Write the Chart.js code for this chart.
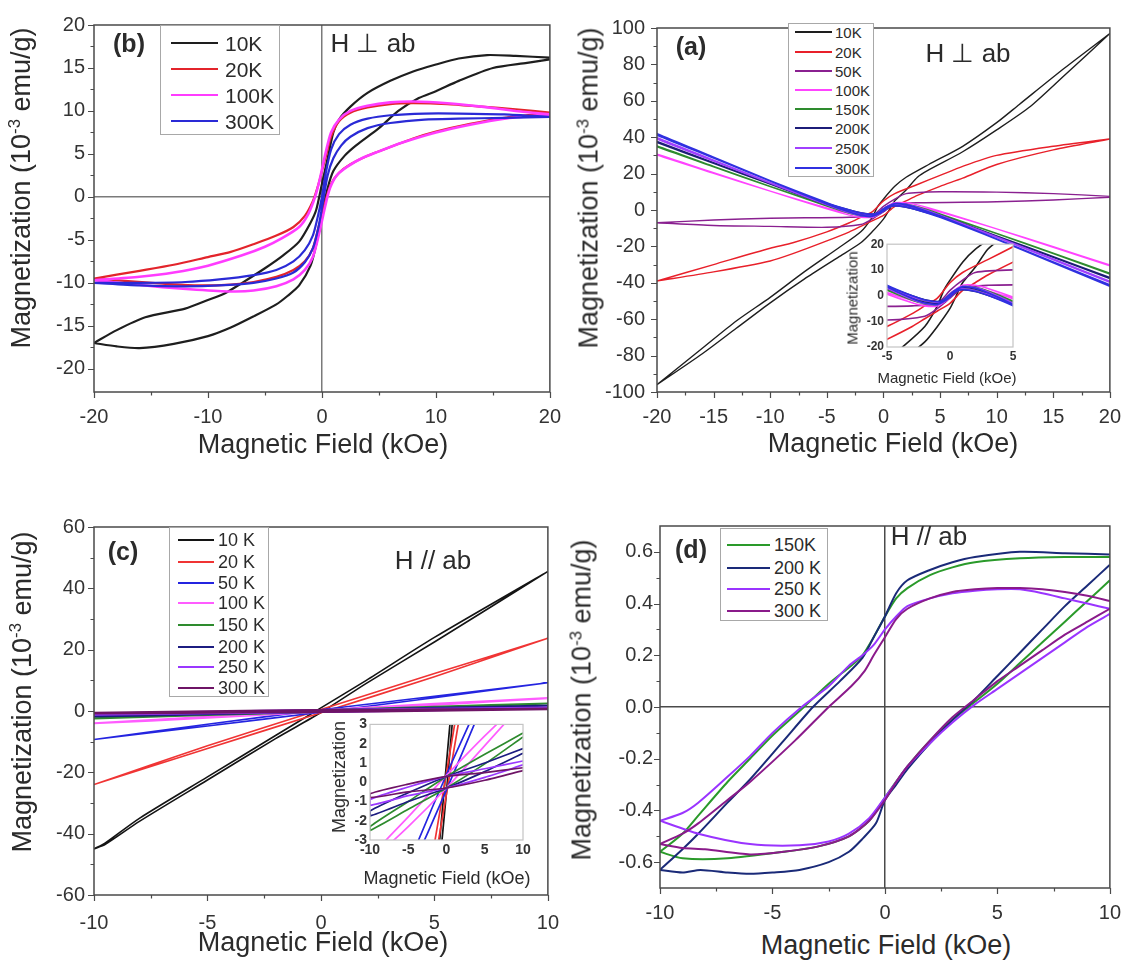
<!DOCTYPE html>
<html><head><meta charset="utf-8">
<script src="https://cdn.jsdelivr.net/npm/chart.js@4.4.1/dist/chart.umd.min.js"></script>
<style>
html,body{margin:0;padding:0;background:#fff}
body{width:1135px;height:962px;position:relative;overflow:hidden;font-family:"Liberation Sans",Arial,sans-serif;color:#2b2b2b}
canvas{position:absolute}
.tx{position:absolute;white-space:nowrap;transform:translate(-50%,-50%);line-height:1}
.yt{position:absolute;white-space:nowrap;transform:translate(-50%,-50%) rotate(-90deg);line-height:1}
.yt sup{font-size:0.62em;vertical-align:0.55em;line-height:0}
.lg{position:absolute;border:1px solid #a8a8a8;background:#fff;box-sizing:border-box}
</style></head><body>
<canvas id="cb"></canvas><canvas id="ca"></canvas><canvas id="cc"></canvas><canvas id="cd"></canvas>
<canvas id="cai"></canvas><canvas id="cci"></canvas>

<div class="yt" style="left:21px;top:188px;font-size:27px">Magnetization (10<sup>-3</sup> emu/g)</div>
<div class="yt" style="left:589px;top:188px;font-size:27px">Magnetization (10<sup>-3</sup> emu/g)</div>
<div class="yt" style="left:22px;top:692px;font-size:27px">Magnetization (10<sup>-3</sup> emu/g)</div>
<div class="yt" style="left:582px;top:700px;font-size:27px">Magnetization (10<sup>-3</sup> emu/g)</div>
<div class="tx" style="left:323px;top:444px;font-size:27px">Magnetic Field (kOe)</div>
<div class="tx" style="left:893px;top:443px;font-size:27px">Magnetic Field (kOe)</div>
<div class="tx" style="left:323px;top:942px;font-size:27px">Magnetic Field (kOe)</div>
<div class="tx" style="left:886px;top:945px;font-size:27px">Magnetic Field (kOe)</div>
<div class="tx" style="left:129px;top:43px;font-size:25px;font-weight:bold">(b)</div>
<div class="tx" style="left:691px;top:46px;font-size:25px;font-weight:bold">(a)</div>
<div class="tx" style="left:123px;top:551px;font-size:25px;font-weight:bold">(c)</div>
<div class="tx" style="left:691px;top:549px;font-size:25px;font-weight:bold">(d)</div>
<div class="tx" style="left:373px;top:43px;font-size:26px">H ⊥ ab</div>
<div class="tx" style="left:968px;top:53px;font-size:26px">H ⊥ ab</div>
<div class="tx" style="left:433px;top:560px;font-size:26px">H // ab</div>
<div class="tx" style="left:929px;top:536px;font-size:26px">H // ab</div>
<div class="tx" style="left:947px;top:377px;font-size:15px">Magnetic Field (kOe)</div>
<div class="yt" style="left:852px;top:298px;font-size:15px">Magnetization</div>
<div class="tx" style="left:447px;top:878px;font-size:18px">Magnetic Field (kOe)</div>
<div class="yt" style="left:339px;top:777px;font-size:18px">Magnetization</div>

<script>
// ================= DATA =================
// Panel (b): H perp ab, ferromagnetic part, [H (kOe), M (1e-3 emu/g)]
const bNames = ['10K','20K','100K','300K'];
const bColors = ['#1e1e1e','#e3242b','#ff3cff','#2a2ad6'];
const b10K_desc = [[20,16.2],[17,16.4],[14.5,16.5],[12,16.1],[10,15.4],[8,14.6],[6,13.5],[4,12.1],[2.5,10.5],[1.5,9],[1,7.5],[0.5,4.5],[0,1.5],[-0.5,-1.5],[-1,-3],[-2,-5.2],[-3.4,-6.8],[-5,-8.3],[-7,-10],[-8.5,-11.2],[-10,-12],[-12,-13],[-15.5,-14],[-18,-15.5],[-20,-17]];
const b10K_asc = [[-20,-17],[-18,-17.4],[-16,-17.6],[-13,-17.1],[-10,-16.2],[-8,-15.2],[-6,-13.9],[-4,-12.5],[-3,-11.5],[-2,-10.3],[-1,-8],[-0.5,-5.5],[0,-2],[0.5,1],[1,3],[2,4.8],[3,6],[5,8],[6.7,10],[8.5,11.5],[10,12.3],[12,13.5],[15,15],[18,15.6],[20,16]];
const b20K_desc = [[20,9.8],[17,10.2],[14,10.5],[11,10.8],[8,10.9],[6,10.8],[4,10.4],[2.5,9.8],[1.5,8.8],[0.8,7],[0.3,4.5],[-0.3,1.5],[-0.8,-0.5],[-1.5,-2.2],[-2.5,-3.5],[-4,-4.5],[-6,-5.5],[-8,-6.4],[-10,-7],[-13,-7.9],[-16,-8.6],[-20,-9.5]];
const b20K_asc = [[-20,-9.5],[-17,-9.8],[-14,-10.1],[-11,-10.3],[-8,-10.2],[-6,-9.9],[-4,-9.3],[-2.5,-8.5],[-1.5,-7.5],[-0.8,-6],[-0.3,-3.5],[0.3,-0.5],[0.8,1.5],[1.5,2.8],[2.5,3.8],[4,4.8],[6,5.8],[8,6.8],[10,7.6],[13,8.5],[16,9.2],[20,9.8]];
const b100K_desc = [[20,9.6],[17,10],[14,10.5],[11,10.9],[8,11.1],[6,11],[4,10.6],[2.5,10],[1.5,9],[0.8,7.5],[0.3,5],[-0.2,2],[-0.6,0],[-1.2,-2],[-2,-3.5],[-3.5,-4.8],[-5,-5.8],[-7,-6.8],[-10,-8],[-13,-8.8],[-16,-9.3],[-20,-9.7]];
const b100K_asc = [[-20,-9.7],[-17,-10.1],[-14,-10.5],[-11,-10.8],[-8,-11],[-6,-10.9],[-4,-10.4],[-2.5,-9.6],[-1.5,-8.5],[-0.8,-7],[-0.2,-4],[0.3,-1],[0.7,1],[1.3,2.5],[2.2,3.5],[3.5,4.5],[5,5.3],[7,6.3],[10,7.5],[13,8.4],[16,9.1],[20,9.6]];
const b300K_desc = [[20,9.3],[16,9.6],[12,9.7],[9,9.7],[6,9.5],[4,9.1],[2.5,8.4],[1.5,7.3],[0.8,5.5],[0.3,2.5],[0,0],[-0.4,-2.5],[-0.8,-4.5],[-1.5,-6.2],[-2.5,-7.5],[-4,-8.5],[-6,-9.1],[-9,-9.6],[-12,-9.9],[-16,-10],[-20,-10]];
const b300K_asc = [[-20,-10],[-16,-10.3],[-12,-10.4],[-9,-10.3],[-6,-10],[-4,-9.5],[-2.5,-8.8],[-1.5,-7.6],[-0.8,-6],[-0.3,-3.5],[0.1,-0.5],[0.5,2.5],[1,4.5],[1.7,6],[2.5,7],[4,8],[6,8.6],[9,9],[12,9.1],[16,9.2],[20,9.3]];
const bXTicks = [-20,-10,0,10,20];
const bYTicks = [-20,-15,-10,-5,0,5,10,15,20];

// Panel (a): H perp ab, raw M
const aNames = ['10K','20K','50K','100K','150K','200K','250K','300K'];
const aColors = ['#1e1e1e','#e8202a','#8a2090','#ff44ff','#2e8b2e','#1c1c78','#a040ff','#3030e0'];
const a10K_desc = [[20,97],[16,78],[12,58],[10,48],[7,35],[4,25],[2,18],[1,13],[0,6],[-0.5,2],[-1,-4],[-2,-12],[-4,-21],[-7,-34],[-10,-48],[-13,-61],[-16,-76],[-20,-96]];
const a10K_asc = [[-20,-96],[-16,-79],[-13,-65],[-10,-51],[-7,-38],[-4,-26],[-2,-18],[-1,-12],[0,-5],[0.5,0],[1,5],[2,11],[3,18],[4,22],[7,32],[10,44],[13,57],[16,74],[20,97]];
const a20K_desc = [[20,39],[15,35],[10,30],[7,24],[5,19],[3,14],[1,9],[0,5],[-1,-1],[-2,-4],[-3,-7],[-5,-12],[-8,-18],[-10,-21],[-15,-30],[-20,-39]];
const a20K_asc = [[-20,-39],[-15,-34],[-10,-28],[-8,-24],[-5,-17],[-3,-12],[-2,-9],[-1,-6],[0,-3],[1,2],[2,5],[3,8],[5,13],[7,17.5],[10,25],[15,33],[20,39]];
const a50K_desc = [[20,7.5],[15,9],[10,9.8],[5,10],[2,9],[1,6],[0,2],[-1,-3],[-3,-4],[-10,-4.5],[-15,-5.5],[-20,-7]];
const a50K_asc = [[-20,-7],[-15,-8.5],[-10,-9],[-5,-9.5],[-2,-8],[-1,-5],[0,-1],[1,3],[3,4],[10,4.5],[15,5.5],[20,7]];
const a100K_desc = [[20,-30.7],[15,-20.5],[10,-10.4],[5,-0.6],[3,2.8],[2,4],[1,4],[0.3,1.9],[0,0.5],[-0.5,-2],[-1,-3],[-2,-2.8],[-3,-1.8],[-5,1.2],[-10,10.4],[-15,20.2],[-20,30.2]];
const a100K_asc = [[-20,30.7],[-15,20.5],[-10,10.4],[-5,0.6],[-3,-2.8],[-2,-4],[-1,-4],[-0.3,-1.9],[0,-0.5],[0.5,2],[1,3],[2,2.8],[3,1.8],[5,-1.2],[10,-10.4],[15,-20.2],[20,-30.2]];
const a150K_desc = [[20,-35.2],[15,-24],[10,-12.9],[5,-2.1],[3,1.8],[2,3.2],[1,3.5],[0.3,1.7],[0,0.5],[-0.5,-1.8],[-1,-2.6],[-2,-2.1],[-3,-0.8],[-5,2.6],[-10,12.9],[-15,23.7],[-20,34.7]];
const a150K_asc = [[-20,35.2],[-15,24],[-10,12.9],[-5,2.1],[-3,-1.8],[-2,-3.2],[-1,-3.5],[-0.3,-1.7],[0,-0.5],[0.5,1.8],[1,2.6],[2,2.1],[3,0.8],[5,-2.6],[10,-12.9],[15,-23.7],[20,-34.7]];
const a200K_desc = [[20,-37.6],[15,-25.9],[10,-14.3],[5,-3],[3,1.1],[2,2.6],[1,3.1],[0.3,1.6],[0,0.5],[-0.5,-1.7],[-1,-2.3],[-2,-1.6],[-3,-0.1],[-5,3.5],[-10,14.3],[-15,25.7],[-20,37.2]];
const a200K_asc = [[-20,37.6],[-15,25.9],[-10,14.3],[-5,3],[-3,-1.1],[-2,-2.6],[-1,-3.1],[-0.3,-1.6],[0,-0.5],[0.5,1.7],[1,2.3],[2,1.6],[3,0.1],[5,-3.5],[10,-14.3],[15,-25.7],[20,-37.2]];
const a250K_desc = [[20,-39.7],[15,-27.3],[10,-14.9],[5,-2.9],[3,1.5],[2,3.1],[1,3.6],[0.3,1.8],[0,0.5],[-0.5,-1.8],[-1,-2.6],[-2,-1.9],[-3,-0.5],[-5,3.5],[-10,14.9],[-15,27],[-20,39.2]];
const a250K_asc = [[-20,39.7],[-15,27.3],[-10,14.9],[-5,2.9],[-3,-1.5],[-2,-3.1],[-1,-3.6],[-0.3,-1.8],[0,-0.5],[0.5,1.8],[1,2.6],[2,1.9],[3,0.5],[5,-3.5],[10,-14.9],[15,-27],[20,-39.2]];
const a300K_desc = [[20,-41.9],[15,-28.9],[10,-16],[5,-3.4],[3,1.1],[2,2.9],[1,3.4],[0.3,1.7],[0,0.5],[-0.5,-1.7],[-1,-2.4],[-2,-1.7],[-3,-0.1],[-5,4],[-10,16],[-15,28.6],[-20,41.2]];
const a300K_asc = [[-20,41.9],[-15,28.9],[-10,16],[-5,3.4],[-3,-1.1],[-2,-2.9],[-1,-3.4],[-0.3,-1.7],[0,-0.5],[0.5,1.7],[1,2.4],[2,1.7],[3,0.1],[5,-4],[10,-16],[15,-28.6],[20,-41.2]];
const aXTicks = [-20,-15,-10,-5,0,5,10,15,20];
const aYTicks = [-100,-80,-60,-40,-20,0,20,40,60,80,100];
const aiXTicks = [-5,0,5];
const aiYTicks = [-20,-10,0,10,20];

// Panel (c): H // ab
const cNames = ['10 K','20 K','50 K','100 K','150 K','200 K','250 K','300 K'];
const cColors = ['#141414','#f03434','#2424e0','#ff5cff','#2e8b2e','#1c1c80','#9a38ff','#6e1466'];
const c10K_desc = [[10,45.5],[5,24],[2,10],[0,1],[-2,-8],[-5,-21.5],[-8,-35],[-9.5,-43],[-10,-45]];
const c10K_asc = [[-10,-45],[-9.5,-43.5],[-8,-36],[-5,-22.5],[-2,-9],[0,-0.5],[2,9],[5,22.5],[10,45.5]];
const c20K_desc = [[10,23.7],[5,12.2],[0,0.5],[-5,-11.3],[-10,-24]];
const c20K_asc = [[-10,-24],[-5,-12.2],[0,-0.6],[5,11.2],[10,23.7]];
const c50K_desc = [[10,9.2],[5,4.8],[0,0.4],[-5,-4.3],[-10,-9.3]];
const c50K_asc = [[-10,-9.3],[-5,-4.9],[0,-0.4],[5,4.3],[10,9.2]];
const c100K_desc = [[10,4.3],[5,2.4],[0,0.35],[-5,-1.8],[-10,-3.9]];
const c100K_asc = [[-10,-4.1],[-5,-2.3],[0,-0.3],[5,1.9],[10,4.1]];
const c150K_desc = [[10,2.55],[5,1.45],[0,0.3],[-5,-1],[-10,-2.3]];
const c150K_asc = [[-10,-2.5],[-5,-1.4],[0,-0.3],[5,0.95],[10,2.35]];
const c200K_desc = [[10,1.75],[5,1],[0,0.3],[-5,-0.55],[-10,-1.5]];
const c200K_asc = [[-10,-1.75],[-5,-1],[0,-0.3],[5,0.55],[10,1.5]];
const c250K_desc = [[10,1.1],[5,0.7],[0,0.3],[-5,-0.25],[-10,-0.9]];
const c250K_asc = [[-10,-1.2],[-5,-0.7],[0,-0.3],[5,0.25],[10,0.9]];
const c300K_desc = [[10,0.75],[5,0.5],[0,0.3],[-5,-0.1],[-10,-0.6]];
const c300K_asc = [[-10,-0.8],[-5,-0.5],[0,-0.3],[5,0.1],[10,0.6]];
const cXTicks = [-10,-5,0,5,10];
const cYTicks = [-60,-40,-20,0,20,40,60];
const ciXTicks = [-10,-5,0,5,10];
const ciYTicks = [-3,-2,-1,0,1,2,3];

// Panel (d): H // ab, ferromagnetic part
const dNames = ['150K','200 K','250 K','300 K'];
const dColors = ['#2a9a2a','#1a2a78','#9a34ff','#8a1a8a'];
const d150K_desc = [[10,0.58],[8,0.58],[6,0.575],[4,0.56],[3,0.54],[2,0.51],[1,0.46],[0.5,0.42],[0,0.35],[-0.5,0.27],[-1,0.2],[-1.5,0.16],[-2.5,0.09],[-3.6,0],[-5,-0.11],[-6,-0.2],[-7,-0.29],[-8.3,-0.42],[-9,-0.49],[-10,-0.56]];
const d150K_asc = [[-10,-0.56],[-9,-0.585],[-7,-0.585],[-4.5,-0.56],[-3,-0.54],[-1.6,-0.5],[-0.7,-0.44],[0,-0.35],[1,-0.23],[2,-0.13],[3,-0.05],[4,0.02],[5,0.09],[6,0.17],[7,0.25],[8,0.33],[9,0.41],[10,0.49]];
const d200K_desc = [[10,0.59],[8,0.595],[6,0.6],[4,0.58],[3,0.56],[2,0.53],[1,0.49],[0.5,0.44],[0,0.35],[-0.5,0.27],[-1,0.19],[-2,0.1],[-3.2,0],[-4.5,-0.13],[-6,-0.28],[-7,-0.37],[-8.3,-0.49],[-9,-0.55],[-10,-0.63]];
const d200K_asc = [[-10,-0.63],[-9,-0.64],[-8.2,-0.63],[-7,-0.64],[-6,-0.645],[-5,-0.64],[-3.8,-0.63],[-2.5,-0.6],[-1.6,-0.56],[-1,-0.51],[-0.4,-0.45],[0,-0.36],[0.5,-0.3],[1,-0.24],[2,-0.14],[3,-0.05],[4,0.03],[5,0.12],[6,0.21],[7,0.3],[8,0.39],[9,0.47],[10,0.55]];
const d250K_desc = [[10,0.38],[9,0.4],[8,0.42],[7,0.44],[6,0.455],[5,0.455],[4,0.45],[3,0.44],[2,0.42],[1,0.39],[0.5,0.35],[0,0.3],[-0.5,0.24],[-1,0.2],[-1.6,0.16],[-2.5,0.08],[-3.7,0],[-5,-0.1],[-6,-0.19],[-7,-0.27],[-8.3,-0.37],[-9,-0.41],[-10,-0.44]];
const d250K_asc = [[-10,-0.44],[-8.3,-0.49],[-6,-0.53],[-3.8,-0.535],[-2.5,-0.52],[-1.6,-0.49],[-0.7,-0.43],[0,-0.35],[0.5,-0.29],[1,-0.23],[2,-0.14],[3,-0.06],[4,0.01],[5,0.07],[6,0.13],[7,0.19],[8,0.25],[9,0.31],[10,0.36]];
const d300K_desc = [[10,0.41],[9,0.43],[8,0.445],[7,0.455],[6,0.46],[5,0.46],[4,0.455],[3,0.445],[2,0.42],[1,0.38],[0.5,0.34],[0,0.27],[-0.5,0.2],[-0.9,0.14],[-1.5,0.08],[-2.5,0],[-4,-0.13],[-6,-0.29],[-7,-0.36],[-8.3,-0.45],[-9,-0.49],[-10,-0.53]];
const d300K_asc = [[-10,-0.53],[-9,-0.545],[-8,-0.55],[-6,-0.57],[-4.5,-0.56],[-3,-0.54],[-1.6,-0.5],[-0.7,-0.44],[0,-0.36],[0.5,-0.29],[1,-0.23],[2,-0.13],[3,-0.04],[4,0.03],[5,0.1],[6,0.16],[7,0.22],[8,0.28],[9,0.33],[10,0.38]];
const dXTicks = [-10,-5,0,5,10];
const dYTicks = [-0.6,-0.4,-0.2,0,0.2,0.4,0.6];

// ================= HELPERS =================
Chart.defaults.font.family = '"Liberation Sans", Arial, sans-serif';
function loop(d,a){ return d.concat(a).map(p=>({x:p[0],y:p[1]})); }
function mids(m){ const r=[]; for(let i=0;i<m.length-1;i++) r.push((m[i]+m[i+1])/2); return r; }
function isMaj(m,v){ return m.some(q=>Math.abs(q-v)<1e-9); }
const fInt = v => String(Math.round(v));
const fOne = v => (Math.abs(v)<1e-9?0:v).toFixed(1);

const framePlugin = {
  id:'frame',
  beforeDraw(chart, args, o){
    if(o.bg){ const a=chart.chartArea, c=chart.ctx; c.save(); c.fillStyle='#fff'; c.fillRect(a.left,a.top,a.right-a.left,a.bottom-a.top); c.restore(); }
  },
  afterDatasetsDraw(chart, args, o){
    const a=chart.chartArea, c=chart.ctx;
    c.save();
    if(o.ticks){
      const xs=chart.scales.x, ys=chart.scales.y;
      c.strokeStyle=o.color; c.lineWidth=1.2; c.beginPath();
      xs.ticks.forEach(t=>{ const p=Math.round(xs.getPixelForValue(t.value))+0.5; const len=t.label?o.major:o.minor; c.moveTo(p,a.bottom); c.lineTo(p,a.bottom+len); });
      ys.ticks.forEach(t=>{ const p=Math.round(ys.getPixelForValue(t.value))+0.5; const len=t.label?o.major:o.minor; c.moveTo(a.left,p); c.lineTo(a.left-len,p); });
      c.stroke();
    }
    c.strokeStyle=o.color; c.lineWidth=o.width;
    c.strokeRect(a.left,a.top,a.right-a.left,a.bottom-a.top);
    c.restore();
  }
};

function scaleCfg(s, isX, g, p){
  const all = s.major.concat(p.minor===false?[]:mids(s.major)).sort((a,b)=>a-b);
  return {
    type:'linear', position:isX?'bottom':'left', min:s.min, max:s.max,
    afterBuildTicks: ax=>{ ax.ticks = all.map(v=>({value:v})); },
    afterFit: ax=>{ if(isX) ax.height=g.xh; else ax.width=g.yw; },
    ticks:{ autoSkip:false, maxRotation:0, minRotation:0, padding:s.pad, color:'#333',
      font:{size:p.fs, weight:p.fw||'normal'}, callback:v=>isMaj(s.major,v)?s.fmt(v):'' },
    grid:{ display:!!p.zero, drawOnChartArea:true, drawTicks:false, lineWidth:1.5,
      color:c=>(c.tick&&Math.abs(c.tick.value)<1e-9)?p.zero:'rgba(0,0,0,0)' },
    border:{ display:false }
  };
}

function panel(id, g, p){
  const cv=document.getElementById(id);
  const W=(g.R-g.L)+g.yw+g.pr, H=(g.B-g.T)+g.pt+g.xh;
  cv.width=W; cv.height=H;
  cv.style.left=(g.L-g.yw)+'px'; cv.style.top=(g.T-g.pt)+'px';
  cv.style.width=W+'px'; cv.style.height=H+'px';
  const n=p.series.length;
  const datasets=p.series.map((s,i)=>({label:s.name, data:s.data, borderColor:s.color, borderWidth:s.lw||p.lw,
    pointRadius:0, showLine:true, tension:0.25, fill:false, order:n-i}));
  new Chart(cv,{ type:'scatter', data:{datasets}, plugins:[framePlugin],
    options:{ responsive:false, animation:false, devicePixelRatio:1, events:[],
      layout:{padding:{left:0,top:g.pt,right:g.pr,bottom:0}},
      plugins:{ legend:{display:false}, tooltip:{enabled:false},
        frame:{ bg:!!p.bg, ticks:p.ticks!==false, color:p.frameColor||'#4a4a4a', width:p.frameWidth||1.5, major:6, minor:3.5 } },
      scales:{ x:scaleCfg(p.x,true,g,p), y:scaleCfg(p.y,false,g,p) } } });
}

function legend(box, names, colors, st){
  const d=document.createElement('div'); d.className='lg';
  d.style.left=box.l+'px'; d.style.top=box.t+'px'; d.style.width=(box.r-box.l)+'px'; d.style.height=(box.b-box.t)+'px';
  document.body.appendChild(d);
  names.forEach((nm,i)=>{
    const ln=document.createElement('div');
    ln.style.cssText='position:absolute;left:'+st.x1+'px;top:'+(st.ys[i]-st.lw/2)+'px;width:'+(st.x2-st.x1)+'px;height:'+st.lw+'px;background:'+colors[i];
    document.body.appendChild(ln);
    const t=document.createElement('div');
    t.style.cssText='position:absolute;left:'+st.tx+'px;top:'+st.ys[i]+'px;transform:translateY(-50%);font-size:'+st.fs+'px;line-height:1;white-space:nowrap;color:#2b2b2b';
    t.textContent=nm; document.body.appendChild(t);
  });
}

// ================= CHARTS =================
const bData=[loop(b10K_desc,b10K_asc),loop(b20K_desc,b20K_asc),loop(b100K_desc,b100K_asc),loop(b300K_desc,b300K_asc)];
panel('cb',{L:94,T:18,R:552,B:392,yw:60,xh:40,pt:14,pr:22},{
  series:bNames.map((nm,i)=>({name:nm,color:bColors[i],data:bData[i],lw:i===2?2.6:2.2})), lw:2.2, fs:20, zero:'#7a7a7a',
  x:{min:-20,max:20,major:bXTicks,fmt:fInt,pad:13}, y:{min:-22.7,max:20,major:bYTicks,fmt:fInt,pad:9}});

const aData=[loop(a10K_desc,a10K_asc),loop(a20K_desc,a20K_asc),loop(a50K_desc,a50K_asc),loop(a100K_desc,a100K_asc),
  loop(a150K_desc,a150K_asc),loop(a200K_desc,a200K_asc),loop(a250K_desc,a250K_asc),loop(a300K_desc,a300K_asc)];
panel('ca',{L:657,T:18,R:1118,B:392,yw:60,xh:40,pt:14,pr:16},{
  series:aNames.map((nm,i)=>({name:nm,color:aColors[i],data:aData[i],lw:i>=5?1.8:1.4})), lw:1.4, fs:20,
  x:{min:-20,max:20,major:aXTicks,fmt:fInt,pad:13}, y:{min:-100,max:100,major:aYTicks,fmt:fInt,pad:12}});

const cData=[loop(c10K_desc,c10K_asc),loop(c20K_desc,c20K_asc),loop(c50K_desc,c50K_asc),loop(c100K_desc,c100K_asc),
  loop(c150K_desc,c150K_asc),loop(c200K_desc,c200K_asc),loop(c250K_desc,c250K_asc),loop(c300K_desc,c300K_asc)];
panel('cc',{L:94,T:520,R:553,B:895,yw:60,xh:45,pt:14,pr:22},{
  series:cNames.map((nm,i)=>({name:nm,color:cColors[i],data:cData[i],lw:i>=5?2.2:1.6})), lw:1.6, fs:20,
  x:{min:-10,max:10,major:cXTicks,fmt:fInt,pad:16}, y:{min:-60,max:60,major:cYTicks,fmt:fInt,pad:9}});

const dData=[loop(d150K_desc,d150K_asc),loop(d200K_desc,d200K_asc),loop(d250K_desc,d250K_asc),loop(d300K_desc,d300K_asc)];
panel('cd',{L:660,T:521,R:1112,B:888,yw:60,xh:40,pt:14,pr:22},{
  series:dNames.map((nm,i)=>({name:nm,color:dColors[i],data:dData[i]})), lw:2.0, fs:20, zero:'#4a4a4a',
  x:{min:-10,max:10,major:dXTicks,fmt:fInt,pad:13}, y:{min:-0.7,max:0.7,major:dYTicks,fmt:fOne,pad:7}});

// insets
panel('cai',{L:887,T:242,R:1013,B:347,yw:30,xh:20,pt:8,pr:8},{
  series:aNames.map((nm,i)=>({name:nm,color:aColors[i],data:aData[i],lw:1.6})), lw:1.6, fs:12, fw:'bold', bg:true, ticks:false, minor:false,
  frameColor:'#c4c4c4', frameWidth:1.2,
  x:{min:-5,max:5,major:aiXTicks,fmt:fInt,pad:2}, y:{min:-20,max:20,major:aiYTicks,fmt:fInt,pad:3}});
panel('cci',{L:370,T:721,R:523,B:840,yw:30,xh:22,pt:8,pr:12},{
  series:cNames.map((nm,i)=>({name:nm,color:cColors[i],data:cData[i],lw:1.7})), lw:1.7, fs:14, fw:'bold', bg:true, ticks:false, minor:false,
  frameColor:'#c4c4c4', frameWidth:1.2,
  x:{min:-10,max:10,major:ciXTicks,fmt:fInt,pad:2}, y:{min:-3,max:3,major:ciYTicks,fmt:fInt,pad:3}});

// legends
legend({l:160,t:25,r:280,b:135}, bNames, bColors, {x1:171,x2:218,tx:225,ys:[43,69,95,121],fs:21,lw:2.5});
legend({l:788,t:23,r:874,b:177}, aNames, aColors, {x1:795,x2:832,tx:835,ys:[32,52,71,90,109,128,148,168],fs:15,lw:1.6});
legend({l:169,t:527,r:269,b:697}, cNames, cColors, {x1:178,x2:214,tx:218,ys:[540,562,583,603,625,647,667,688],fs:18,lw:1.6});
legend({l:720,t:528,r:828,b:621}, dNames, dColors, {x1:727,x2:770,tx:774,ys:[545,568,589,611],fs:18,lw:2.5});
</script>
</body></html>
